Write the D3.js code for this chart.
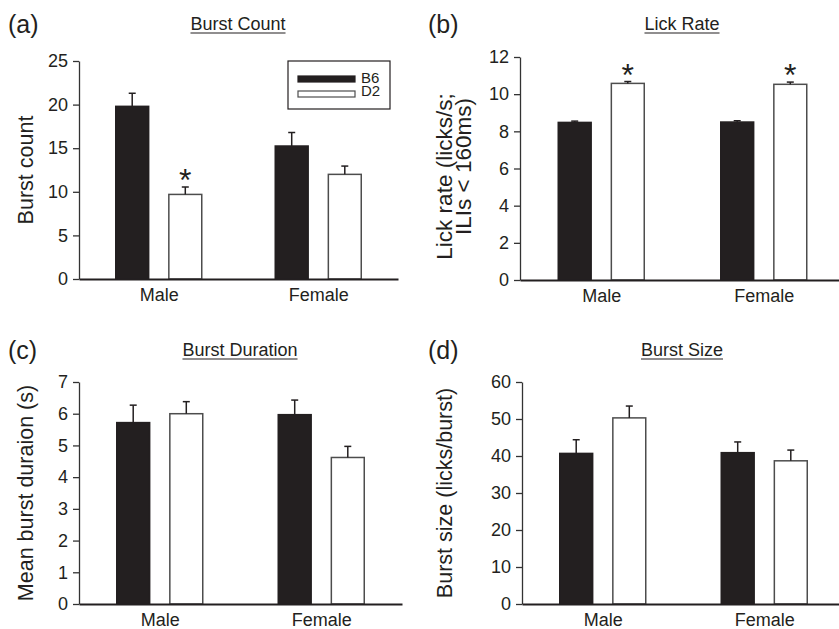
<!DOCTYPE html>
<html>
<head>
<meta charset="utf-8">
<script src="https://cdn.jsdelivr.net/npm/d3@7"></script>
<style>
  body { margin: 0; background: #fff; }
  svg { display: block; font-family: "Liberation Sans", Arial, sans-serif; }
</style>
</head>
<body>
<svg id="chart" width="839" height="629"></svg>
<script>
// groups and strains
var groups = ["Male", "Female"];
var strains = ["B6", "D2"];

// (a) burst count, mean and SEM, [Male, Female]
var burstCountB6 = [19.8, 15.25];
var burstCountD2 = [9.7, 12.0];
var burstCountB6Sem = [1.5, 1.55];
var burstCountD2Sem = [0.85, 0.95];
var burstCountSig = [[false, true], [false, false]];

// (b) lick rate
var lickRateB6 = [8.48, 8.5];
var lickRateD2 = [10.58, 10.53];
var lickRateB6Sem = [0.07, 0.07];
var lickRateD2Sem = [0.1, 0.12];
var lickRateSig = [[false, true], [false, true]];

// (c) burst duration
var burstDurB6 = [5.72, 5.97];
var burstDurD2 = [6.0, 4.62];
var burstDurB6Sem = [0.55, 0.46];
var burstDurD2Sem = [0.38, 0.35];
var burstDurSig = [[false, false], [false, false]];

// (d) burst size
var burstSizeB6 = [40.7, 40.9];
var burstSizeD2 = [50.3, 38.7];
var burstSizeB6Sem = [3.7, 2.9];
var burstSizeD2Sem = [3.2, 2.9];
var burstSizeSig = [[false, false], [false, false]];

var ink = "#231f20";
var font = "Liberation Sans, Arial, sans-serif";
var svg = d3.select("#chart");

function buildRows(b6, d2, b6Sem, d2Sem, sig) {
  var rows = [];
  groups.forEach(function (g, i) {
    rows.push({ group: g, strain: "B6", mean: b6[i], sem: b6Sem[i], sig: sig[i][0] });
    rows.push({ group: g, strain: "D2", mean: d2[i], sem: d2Sem[i], sig: sig[i][1] });
  });
  return rows;
}

function drawPanel(p) {
  var g = svg.append("g");
  var rows = buildRows(p.b6, p.d2, p.b6Sem, p.d2Sem, p.sig);

  var x0 = d3.scalePoint().domain(groups).range([p.left, p.right]).padding(0.5);
  var xi = d3.scaleBand().domain(strains).range([-43, 43]).paddingInner(0.38);
  var y = d3.scaleLinear().domain([0, p.yMax]).range([p.bottom, p.top]);
  var cx = function (d) { return x0(d.group) + xi(d.strain) + xi.bandwidth() / 2; };

  // y axis
  var yAxis = d3.axisLeft(y)
    .tickValues(d3.range(0, p.yMax + p.step / 2, p.step))
    .tickFormat(d3.format("d"))
    .tickSize(6).tickSizeOuter(0).tickPadding(5);
  var ya = g.append("g").attr("transform", "translate(" + p.left + ",0)").call(yAxis);
  ya.select(".domain").attr("stroke", "#333").attr("stroke-width", 1.3);
  ya.selectAll(".tick line").attr("stroke", "#333").attr("stroke-width", 1.3);
  ya.selectAll(".tick text").attr("font-size", 18).attr("fill", ink).attr("font-family", font);

  // bars
  g.selectAll("rect.bar").data(rows).enter().append("rect")
    .attr("class", "bar")
    .attr("x", function (d) { return x0(d.group) + xi(d.strain); })
    .attr("width", xi.bandwidth())
    .attr("y", function (d) { return y(d.mean); })
    .attr("height", function (d) { return y(0) - y(d.mean); })
    .attr("fill", function (d) { return d.strain == "B6" ? ink : "#fff"; })
    .attr("stroke", function (d) { return d.strain == "B6" ? ink : "#4d4d4d"; })
    .attr("stroke-width", 1.5);

  // error bars
  var eb = g.selectAll("g.err").data(rows).enter().append("g").attr("class", "err");
  eb.append("line")
    .attr("x1", cx).attr("x2", cx)
    .attr("y1", function (d) { return y(d.mean); })
    .attr("y2", function (d) { return y(d.mean + d.sem); })
    .attr("stroke", ink).attr("stroke-width", 1.5);
  eb.append("line")
    .attr("x1", function (d) { return cx(d) - 3.5; })
    .attr("x2", function (d) { return cx(d) + 3.5; })
    .attr("y1", function (d) { return y(d.mean + d.sem); })
    .attr("y2", function (d) { return y(d.mean + d.sem); })
    .attr("stroke", ink).attr("stroke-width", 1.5);

  // significance stars
  g.selectAll("text.star").data(rows.filter(function (d) { return d.sig; })).enter().append("text")
    .attr("class", "star")
    .attr("x", cx)
    .attr("y", function (d) { return y(d.mean + d.sem) + 4; })
    .attr("text-anchor", "middle").attr("font-size", 32).attr("fill", ink)
    .text("*");

  // x axis
  var xAxis = d3.axisBottom(x0).tickSize(0).tickSizeOuter(0).tickPadding(9);
  var xa = g.append("g").attr("transform", "translate(0," + p.bottom + ")").call(xAxis);
  xa.select(".domain").attr("stroke", ink).attr("stroke-width", 2);
  xa.selectAll(".tick text").attr("font-size", 18).attr("fill", ink).attr("font-family", font);

  // y label
  var cy = (p.top + p.bottom) / 2;
  p.ylabel.forEach(function (line, k) {
    g.append("text")
      .attr("transform", "translate(" + p.ylabelX[k] + "," + (cy + p.ylabelDy[k]) + ") rotate(-90)")
      .attr("text-anchor", "middle").attr("font-size", p.ylabelSize).attr("fill", ink)
      .text(line);
  });

  // title, underlined
  var t = g.append("text").attr("x", p.titleX).attr("y", p.titleY)
    .attr("text-anchor", "middle").attr("font-size", 18).attr("fill", ink)
    .text(p.title);
  var bb = t.node().getBBox();
  g.append("line").attr("x1", bb.x).attr("x2", bb.x + bb.width)
    .attr("y1", p.titleY + 3).attr("y2", p.titleY + 3)
    .attr("stroke", ink).attr("stroke-width", 1.2);

  // panel letter
  g.append("text").attr("x", p.letterX).attr("y", p.letterY)
    .attr("font-size", 25).attr("fill", ink).text(p.letter);

  return g;
}

var gA = drawPanel({
  b6: burstCountB6, d2: burstCountD2, b6Sem: burstCountB6Sem, d2Sem: burstCountD2Sem, sig: burstCountSig,
  left: 79, right: 398, top: 61, bottom: 279, yMax: 25, step: 5,
  ylabel: ["Burst count"], ylabelX: [33], ylabelDy: [0], ylabelSize: 21.5,
  title: "Burst Count", titleX: 238, titleY: 30, letter: "(a)", letterX: 8, letterY: 33
});
drawPanel({
  b6: lickRateB6, d2: lickRateD2, b6Sem: lickRateB6Sem, d2Sem: lickRateD2Sem, sig: lickRateSig,
  left: 520, right: 845, top: 57, bottom: 280, yMax: 12, step: 2,
  ylabel: ["Lick rate (licks/s;", "ILIs < 160ms)"], ylabelX: [452, 471], ylabelDy: [8, -2], ylabelSize: 22.5,
  title: "Lick Rate", titleX: 682, titleY: 30, letter: "(b)", letterX: 428, letterY: 33
});
drawPanel({
  b6: burstDurB6, d2: burstDurD2, b6Sem: burstDurB6Sem, d2Sem: burstDurD2Sem, sig: burstDurSig,
  left: 79, right: 402, top: 382, bottom: 604, yMax: 7, step: 1,
  ylabel: ["Mean burst duraion (s)"], ylabelX: [33], ylabelDy: [0], ylabelSize: 21.5,
  title: "Burst Duration", titleX: 240, titleY: 356, letter: "(c)", letterX: 8, letterY: 359
});
drawPanel({
  b6: burstSizeB6, d2: burstSizeD2, b6Sem: burstSizeB6Sem, d2Sem: burstSizeD2Sem, sig: burstSizeSig,
  left: 522, right: 845, top: 382, bottom: 604, yMax: 60, step: 10,
  ylabel: ["Burst size (licks/burst)"], ylabelX: [452], ylabelDy: [0], ylabelSize: 21.5,
  title: "Burst Size", titleX: 682, titleY: 356, letter: "(d)", letterX: 428, letterY: 359
});

// legend in panel (a)
var legend = gA.append("g").attr("transform", "translate(288,61)");
legend.append("rect").attr("width", 102).attr("height", 48)
  .attr("fill", "#fff").attr("stroke", ink).attr("stroke-width", 1.2);
strains.forEach(function (s, i) {
  legend.append("rect").attr("x", 10).attr("y", 15 + i * 15).attr("width", 57).attr("height", 6)
    .attr("fill", s == "B6" ? ink : "#fff")
    .attr("stroke", s == "B6" ? ink : "#4d4d4d").attr("stroke-width", 1.2);
  legend.append("text").attr("x", 73).attr("y", 22 + i * 13)
    .attr("font-size", 15).attr("fill", ink).text(s);
});
</script>
</body>
</html>
